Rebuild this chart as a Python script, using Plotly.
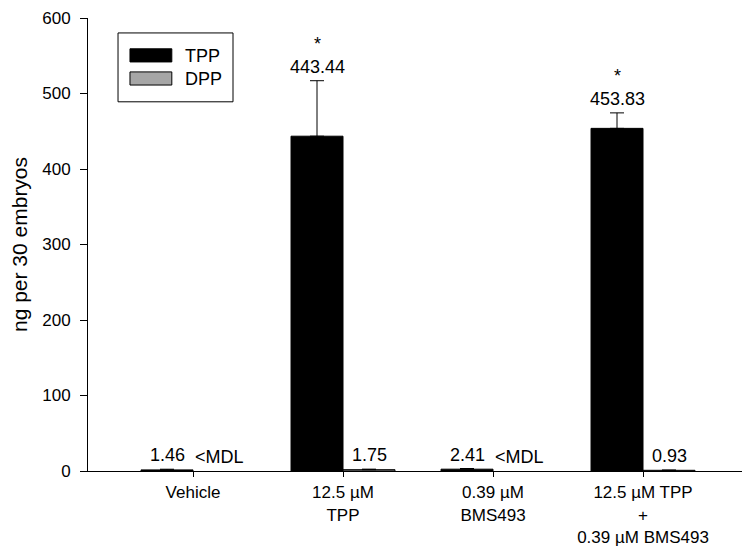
import plotly.graph_objects as go

categories = ["Vehicle", "12.5 µM<br>TPP", "0.39 µM<br>BMS493", "12.5 µM TPP<br>+<br>0.39 µM BMS493"]
tpp_values = [1.46, 443.44, 2.41, 453.83]
tpp_errors = [0.9, 73.5, 0.9, 20.5]
dpp_values = [None, 1.75, None, 0.93]
dpp_errors = [0, 0.7, 0, 0.3]
tpp_labels = ["1.46", "*<br>443.44", "2.41", "*<br>453.83"]
dpp_labels = ["<MDL", "1.75", "<MDL", "0.93"]
yticks = [0, 100, 200, 300, 400, 500, 600]

FONT = "Liberation Sans, Arial, sans-serif"
x_idx = list(range(len(categories)))

fig = go.Figure()
fig.add_trace(go.Bar(
    name="TPP", x=x_idx, y=tpp_values,
    marker=dict(color="black", line=dict(color="black", width=1)),
    error_y=dict(type="data", symmetric=False, array=tpp_errors,
                 arrayminus=[0] * 4, color="black", thickness=1, width=7),
    showlegend=False,
))
fig.add_trace(go.Bar(
    name="DPP", x=x_idx, y=dpp_values,
    marker=dict(color="#a6a6a6", line=dict(color="black", width=1)),
    error_y=dict(type="data", symmetric=False, array=dpp_errors,
                 arrayminus=[0] * 4, color="black", thickness=1, width=7),
    showlegend=False,
))

annotations = []
for i in x_idx:
    top_t = tpp_values[i] + tpp_errors[i]
    annotations.append(dict(x=i, y=top_t, xref="x", yref="y", text=tpp_labels[i],
                            showarrow=False, xshift=-26, yanchor="bottom", yshift=2,
                            font=dict(family=FONT, size=18, color="black")))
    top_d = (dpp_values[i] or 0) + dpp_errors[i]
    annotations.append(dict(x=i, y=top_d, xref="x", yref="y", text=dpp_labels[i],
                            showarrow=False, xshift=26, yanchor="bottom", yshift=2,
                            font=dict(family=FONT, size=18, color="black")))

# legend (drawn as a boxed key)
annotations += [
    dict(x=0.144, y=0.917, xref="paper", yref="paper", text="TPP", showarrow=False,
         xanchor="left", yanchor="middle", font=dict(family=FONT, size=18, color="black")),
    dict(x=0.144, y=0.866, xref="paper", yref="paper", text="DPP", showarrow=False,
         xanchor="left", yanchor="middle", font=dict(family=FONT, size=18, color="black")),
]
shapes = [
    dict(type="rect", xref="paper", yref="paper", x0=0.0455, x1=0.2197, y0=0.815, y1=0.967,
         line=dict(color="black", width=1), fillcolor="white"),
    dict(type="rect", xref="paper", yref="paper", x0=0.0636, x1=0.127, y0=0.903, y1=0.932,
         line=dict(color="black", width=1), fillcolor="black"),
    dict(type="rect", xref="paper", yref="paper", x0=0.0636, x1=0.127, y0=0.852, y1=0.881,
         line=dict(color="black", width=1), fillcolor="#a6a6a6"),
]

fig.update_layout(
    width=742, height=542,
    margin=dict(l=80, r=2, t=10, b=79),
    paper_bgcolor="white", plot_bgcolor="white",
    barmode="group", bargap=0.307, bargroupgap=0,
    font=dict(family=FONT, size=17, color="black"),
    annotations=annotations, shapes=shapes,
    xaxis=dict(range=[-0.7, 3.7], tickmode="array", tickvals=x_idx, ticktext=categories,
               showline=True, linecolor="black", linewidth=1, ticks="outside",
               ticklen=5, tickcolor="black", showgrid=False, zeroline=False,
               automargin=False,
               ticklabelstandoff=1, tickfont=dict(family=FONT, size=17)),
    yaxis=dict(range=[0, 600], tickvals=yticks, showline=True, linecolor="black",
               linewidth=1, ticks="outside", ticklen=7, tickcolor="black",
               showgrid=False, zeroline=False, ticklabelstandoff=6,
               automargin="left",
               tickfont=dict(family=FONT, size=17),
               title=dict(text="ng per 30 embryos", font=dict(family=FONT, size=21),
                          standoff=8)),
)

fig.write_html("out.html")
